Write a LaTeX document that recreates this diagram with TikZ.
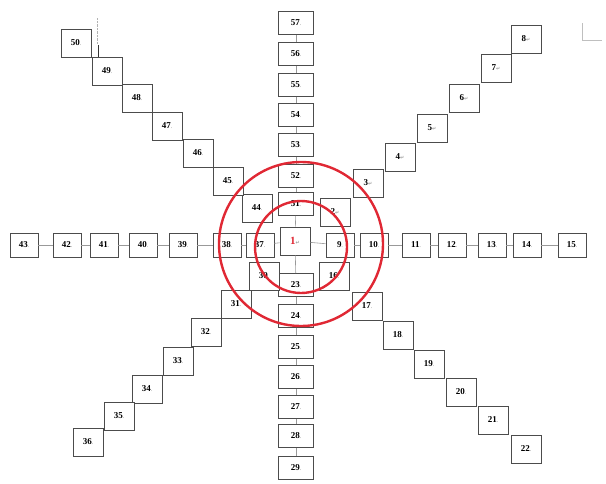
\documentclass[tikz,border=0pt]{standalone}
\usepackage{fontspec}
\setmainfont{Liberation Serif}
\newfontfamily\markfont{DejaVu Sans}
\usepackage{tikz}
\definecolor{ringred}{RGB}{224,40,52}
\newcommand{\dotmark}{{\color{black!40}\fontsize{5}{5}\selectfont.}}
\newcommand{\retmark}{{\color{black!40}\markfont\fontsize{5}{5}\selectfont ↵}}

\tikzset{
  cell/.style={draw=black!70, line width=0.9pt, fill=white, inner sep=0pt,
    font=\fontsize{9}{9}\selectfont\bfseries},
  rowcell/.style={cell, minimum width=28pt, minimum height=24pt},
  colcell/.style={cell, minimum width=35pt, minimum height=23pt},
  diagcell/.style={cell, minimum width=30pt, minimum height=28pt},
  link/.style={black!40, line width=0.6pt},
  ring/.style={draw=ringred, line width=2.4pt}
}

\begin{document}
\begin{tikzpicture}[x=1pt, y=-1pt]
  \useasboundingbox (0,0) rectangle (606,483);
  \node[diagcell, text=ringred, font=\fontsize{11}{11}\selectfont\bfseries] (c1) at (295,241) {1\retmark};
  \foreach \n/\x in {43/24, 42/67, 41/104, 40/143, 39/183, 38/227, 37/260, 9/340, 10/374, 11/416, 12/452, 13/492, 14/527, 15/572}
    \node[rowcell] (c\n) at (\x,245) {\n\dotmark};
  \foreach \n/\y in {57/23, 56/54, 55/85, 54/115, 53/145, 52/176, 51/204, 23/285, 24/316, 25/347, 26/377, 27/407, 28/436, 29/468}
    \node[colcell] (c\n) at (296,\y) {\n\dotmark};
  \foreach \n/\x/\y in {2/335/212, 3/368/183, 4/400/157, 5/432/128, 6/464/98, 7/496/68, 8/526/39}
    \node[diagcell] (c\n) at (\x,\y) {\n\retmark};
  \foreach \n/\x/\y in {16/334/276, 17/367/306, 18/398/335, 19/429/364, 20/461/392, 21/493/420, 22/526/449,
      30/264/276, 31/236/304, 32/206/332, 33/178/361, 34/147/389, 35/119/416, 36/88/442,
      44/257/208, 45/228/181, 46/198/153, 47/167/126, 48/137/98, 49/107/71, 50/76/43}
    \node[diagcell] (c\n) at (\x,\y) {\n\dotmark};
  \foreach \a/\b in {43/42, 42/41, 41/40, 40/39, 39/38, 38/37, 37/1, 1/9, 9/10, 10/11, 11/12, 12/13, 13/14, 14/15,
      57/56, 56/55, 55/54, 54/53, 53/52, 52/51, 51/1, 1/23, 23/24, 24/25, 25/26, 26/27, 27/28, 28/29}
    \draw[link] (c\a) -- (c\b);
  \draw[ring] (301,244) circle (82pt);
  \draw[ring] (301,247) circle (46pt);
  \draw[black!80, line width=1.6pt] (98.5,45) -- (98.5,57);
  \draw[black!30, densely dotted, line width=0.4pt] (97,18) -- (97,44);
  \draw[black!25, line width=0.8pt] (582,23) -- (582,40) -- (602,40);
\end{tikzpicture}
\end{document}
